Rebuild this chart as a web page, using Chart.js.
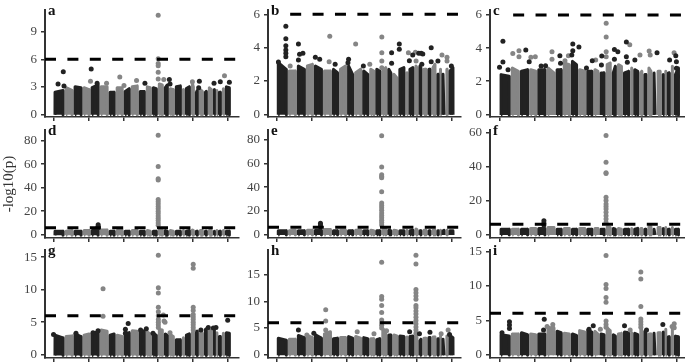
<!DOCTYPE html>
<html lang="en">
<head>
<meta charset="UTF-8">
<title>Manhattan plots</title>
<script src="https://cdn.jsdelivr.net/npm/chart.js"></script>
<style>
  html, body { margin: 0; padding: 0; background: #fff; }
  #page { position: relative; width: 685px; height: 364px; overflow: hidden; }
  canvas { position: absolute; }
</style>
</head>
<body>
<div id="page"></div>
<script>
// chromosome sizes (same for all panels)
const chrLengths = [158,129,129,115,129,129,101,115,101,115,101,86,86,86,72,86,101,43,86,57,57,72,57,72,43,29,57,43,86];
const xTicks = [0,500,1000,1500,2000,2500];
const threshold = 6;

const yTicksA = [0,3,6,9];
const yTicksB = [0,2,4,6];
const yTicksC = [0,2,4,6];
const yTicksD = [0,20,40,60,80];
const yTicksE = [0,20,40,60,80];
const yTicksF = [0,20,40,60];
const yTicksG = [0,5,10,15];
const yTicksH = [0,5,10,15];
const yTicksI = [0,5,10,15];

// top of the dense mass for each chromosome: [left, right]
const massA = [[2.4,2.6],[2.9,2.6],[3.0,2.9],[2.9,2.7],[2.9,3.2],[3.0,3.0],[2.4,2.4],[2.9,2.9],[2.5,2.8],[3.0,3.1],[2.5,2.5],[3.0,2.9],[2.9,2.8],[3.3,3.2],[2.9,3.2],[2.8,2.7],[3.0,3.1],[2.6,2.7],[2.8,3.0],[3.4,3.0],[2.4,2.6],[2.7,2.5],[2.4,2.5],[2.9,2.7],[2.5,2.7],[2.6,2.6],[2.4,2.4],[2.7,2.8],[3.0,2.9]];
const massB = [[3.1,2.7],[2.6,2.6],[2.9,2.7],[2.9,3.0],[2.9,2.7],[2.6,2.6],[2.7,2.5],[2.7,2.9],[2.9,2.4],[2.5,2.7],[2.6,2.4],[2.7,2.6],[2.7,2.6],[2.6,2.8],[2.7,2.5],[2.4,2.2],[2.7,2.8],[2.5,2.5],[2.7,2.8],[2.9,2.8],[2.9,2.8],[2.7,2.7],[2.7,2.7],[2.8,3.0],[2.4,2.4],[2.7,2.7],[2.4,2.4],[2.7,2.7],[2.6,2.8]];
const massC = [[2.4,2.3],[2.8,2.6],[2.6,2.7],[2.7,2.6],[2.7,2.7],[2.8,2.5],[2.7,2.7],[3.1,3.0],[3.2,3.0],[2.7,2.6],[2.6,2.6],[2.7,2.6],[2.5,2.5],[3.0,3.1],[2.5,2.9],[3.0,2.9],[2.5,2.6],[2.8,2.8],[2.7,2.6],[2.5,2.6],[2.4,2.4],[2.8,2.6],[2.5,2.5],[2.6,2.6],[2.4,2.4],[2.6,2.6],[2.5,2.5],[2.9,2.9],[2.4,2.8]];
const massD = [[3,3],[3,3.5],[3,3],[3.5,3.5],[3.5,3.5],[4,4],[3,3],[3.5,3.5],[3,3],[3.5,3.5],[3,3],[3.5,3],[3,3],[4,4],[3.5,3],[3.5,3],[3,3],[3.5,3],[3,3.5],[4,3.5],[3,3],[3.5,3.5],[3,3],[3.5,3.5],[3,3],[3.5,3.5],[3,3],[3.5,3.5],[3,3]];
const massE = [[3,3],[3,3.5],[3,3],[3.5,3.5],[3.5,3.5],[4,4],[3,3],[3.5,3.5],[3,3],[3.5,3.5],[3,3],[3.5,3],[3,3],[4,4],[3.5,3],[3.5,3],[3,3],[3.5,3],[3,3.5],[4.5,4],[3,3],[3.5,3.5],[3,3],[3.5,3.5],[3,3],[3.5,3.5],[3,3.5],[3.5,3.5],[3,3]];
const massF = [[3,3],[3,3],[3,3],[3.5,3.5],[3.5,3.5],[4,4],[3,3],[3.5,3.5],[3,3],[3.5,3.5],[3,3],[3.5,3.5],[3,3],[4.5,4],[3.5,3],[3.5,3],[3,3],[3.5,3],[3,3.5],[3.5,3.5],[3,3],[4.5,4.5],[3,3],[4,4],[3,3.5],[4,4],[3,3],[4,3.5],[3,3]];
const massG = [[3.0,2.6],[2.8,2.9],[3.2,2.8],[3.0,3.2],[3.3,3.5],[3.8,3.6],[3.0,3.2],[3.0,2.8],[3.3,3.4],[3.7,3.6],[3.5,3.7],[3.5,3.2],[3.3,3.0],[3.9,3.8],[3.2,3.0],[3.1,2.8],[2.3,2.3],[2.6,2.6],[3.0,3.2],[3.4,3.4],[3.6,3.6],[3.3,3.3],[3.9,4.0],[3.8,3.7],[3.8,3.8],[3.4,3.4],[2.8,2.8],[3.3,3.3],[3.4,3.3]];
const massH = [[3.1,2.7],[2.9,2.9],[3.6,3.2],[3.6,3.2],[3.7,3.1],[3.9,4.3],[3.0,3.1],[3.2,3.2],[3.4,3.1],[3.4,3.1],[3.2,3.0],[3.0,3.0],[2.8,3.0],[4.8,4.5],[3.7,3.7],[3.7,3.5],[3.5,3.4],[3.3,3.3],[3.4,3.5],[4.0,3.4],[2.6,2.9],[3.1,3.1],[3.2,3.2],[3.3,3.3],[3.0,3.0],[3.4,3.4],[2.9,2.9],[3.5,3.5],[3.6,3.2]];
const massI = [[2.9,2.7],[3.0,3.0],[3.2,2.9],[3.0,2.9],[3.0,3.0],[4.0,3.8],[3.4,3.2],[3.1,3.0],[3.0,2.8],[3.5,3.3],[3.6,3.3],[3.4,3.0],[3.0,2.9],[3.9,3.5],[2.9,2.7],[3.0,3.1],[3.3,3.2],[3.2,3.2],[3.1,2.9],[4.2,3.5],[3.4,3.2],[3.0,3.0],[3.1,3.1],[3.2,3.2],[3.3,3.3],[3.7,3.7],[2.6,2.6],[4.0,4.0],[2.7,2.6]];

// single points above the mass: [position, -log10(p)]
const blackA = [[65,3.3],[140,4.65],[150,3.1],[540,4.95],[625,3.4],[1310,3.4],[1660,3.8],[1670,3.3],[2090,3.6],[2080,2.9],[2300,3.4],[2390,3.55],[2520,3.5]];
const greyA = [[530,3.6],[760,3.4],[950,4.07],[1010,3.15],[1190,3.7],[1500,10.8],[1500,6.07],[1500,5.55],[1500,5.3],[1500,4.6],[1500,3.85],[1580,3.8],[1990,3.55],[2450,4.2]];
const blackB = [[130,5.28],[130,4.54],[130,4.12],[130,3.86],[130,3.66],[130,3.46],[310,4.22],[326,3.6],[374,3.66],[310,3.26],[24,3.14],[552,3.42],[614,3.3],[835,3.0],[1027,3.3],[1018,3.1],[1238,2.9],[1642,3.7],[1752,4.22],[1752,3.9],[1642,3.06],[1944,3.56],[1896,3.22],[2030,3.66],[2064,3.66],[2088,3.62],[2208,4.0],[2074,3.0],[2208,3.16],[2304,3.2],[2496,2.9]];
const greyB = [[758,4.68],[1128,4.22],[1502,4.64],[1502,3.7],[1502,3.2],[1502,2.8],[749,3.16],[1330,3.0],[1882,3.7],[1982,3.72],[1992,3.2],[2362,3.56],[2434,3.42],[2434,3.2],[192,2.9]];
const blackC = [[48,4.42],[48,3.16],[0,2.84],[120,2.7],[370,3.88],[418,3.18],[850,3.54],[859,3.08],[1032,4.25],[1032,3.84],[1118,4.06],[1018,3.58],[1224,2.8],[1306,3.24],[1440,3.52],[1435,2.98],[1618,3.92],[1666,3.78],[1618,3.32],[1786,4.37],[1786,3.48],[1800,3.14],[1906,3.28],[2218,3.72],[2395,3.28],[2482,3.54],[2491,3.18],[2491,2.78],[2506,2.27],[648,2.94],[586,2.92]];
const greyC = [[1502,5.5],[1502,4.67],[1502,3.78],[1502,3.48],[187,3.68],[274,3.84],[274,3.48],[442,3.44],[504,3.48],[739,3.78],[739,3.32],[970,3.54],[1834,4.2],[1978,3.58],[2107,3.82],[2122,3.58],[2458,3.72],[1354,3.28],[922,3.24]];
const blackD = [[640,8.5],[640,7],[640,6],[620,5]];
const greyD = [[1500,84.5],[1500,58],[1500,47.5],[1500,46.5],[1500,30],[1500,28],[1500,26],[1500,24],[1500,22],[1500,20],[1500,18],[1500,16],[1500,14],[1500,12],[1500,10],[1500,8]];
const blackE = [[625,9.5],[625,8],[625,6.5]];
const greyE = [[1500,83.5],[1500,57],[1500,50.5],[1500,49],[1500,48],[1500,36],[1500,26.5],[1500,24.5],[1500,22.5],[1500,20.5],[1500,18],[1500,16],[1500,14],[1500,12],[1500,10],[1500,8]];
const blackF = [[625,8],[625,6.5],[625,5.5]];
const greyF = [[1500,58.5],[1500,42.7],[1500,36.5],[1500,36],[1500,22],[1500,20],[1500,18],[1500,16.5],[1500,15],[1500,13],[1500,11],[1500,9],[1500,7]];
const blackG = [[0,3.1],[322,3.3],[566,3.4],[638,3.7],[1070,4.8],[1030,3.9],[1030,3.3],[1248,3.8],[1330,4],[1426,3.3],[2496,5.3],[2328,4.2],[2218,4.2],[2290,4.1],[2112,3.8]];
const greyG = [[710,10.15],[710,5.9],[1502,15.3],[1502,10.3],[1502,9.5],[1502,7.3],[1502,6.6],[1502,6],[1502,5.4],[1502,5],[1502,4.6],[1502,4.2],[1574,6.1],[1584,5.2],[1598,5],[1670,3.4],[2002,13.9],[2002,13.3],[2002,7.3],[2002,6.8],[2002,6.2],[2002,5.8],[2002,5.4],[2002,5],[2002,4.6],[2002,4.2],[2002,3.8]];
const blackH = [[310,4.6],[530,4],[1900,4.3],[2040,3.9],[2190,4.2],[2470,3.8]];
const greyH = [[1500,17.3],[1500,10.9],[1500,10.4],[1500,9.2],[1500,7.9],[1500,6.5],[1500,6],[1500,5.5],[1500,5],[700,8.4],[700,6.3],[700,4.6],[1150,4.3],[1390,3.9],[1570,4.5],[1990,18.6],[1990,17],[1990,12.2],[1990,11.6],[1990,11],[1990,10.4],[1990,9.2],[1990,8.8],[1990,8.2],[1990,7.6],[1990,7],[1990,6.4],[1990,5.8],[1990,5.2],[1990,4.6],[1990,4],[2450,4.6],[2350,3.9],[430,3.7]];
const blackI = [[140,4.8],[140,4.3],[140,3.8],[35,3.2],[630,5.15],[620,3.6],[1320,4.2],[1260,3.7],[1760,4.2],[2070,3.6],[2300,4.4]];
const greyI = [[1500,14.4],[1500,10.2],[1500,9.6],[1500,8.3],[1500,7.6],[1500,4.9],[1500,4.4],[1500,4],[1990,12],[1990,11],[1990,7],[1990,5.2],[1990,4.8],[1990,4.4],[1990,4],[670,4.1],[750,4.4],[750,3.9],[1420,3.7],[1840,3.6],[2430,4.1],[2460,4.5],[2460,3.9]];

const BLACK = '#222222';
const GREY = '#858585';
const INK = '#333333';
const FONT = "'Liberation Serif', serif";

// axis ranges are set so each panel's plot area lands where it does in the figure
const panels = [
  { id:'a', mass:massA, black:blackA, grey:greyA, ticks:yTicksA, yMin:-0.29, yMax:11.37, col:0, row:0, dashFrom:null },
  { id:'b', mass:massB, black:blackB, grey:greyB, ticks:yTicksB, yMin:-0.16, yMax:6.26, col:1, row:0, dashFrom:192 },
  { id:'c', mass:massC, black:blackC, grey:greyC, ticks:yTicksC, yMin:-0.16, yMax:6.3, col:2, row:0, dashFrom:192 },
  { id:'d', mass:massD, black:blackD, grey:greyD, ticks:yTicksD, yMin:-2.8, yMax:89, col:0, row:1, dashFrom:null, title:'-log10(p)' },
  { id:'e', mass:massE, black:blackE, grey:greyE, ticks:yTicksE, yMin:-3.1, yMax:88.4, col:1, row:1, dashFrom:null },
  { id:'f', mass:massF, black:blackF, grey:greyF, ticks:yTicksF, yMin:-2.2, yMax:61.8, col:2, row:1, dashFrom:null },
  { id:'g', mass:massG, black:blackG, grey:greyG, ticks:yTicksG, yMin:-0.5, yMax:16.1, col:0, row:2, dashFrom:null },
  { id:'h', mass:massH, black:blackH, grey:greyH, ticks:yTicksH, yMin:-0.62, yMax:19.6, col:1, row:2, dashFrom:null },
  { id:'i', mass:massI, black:blackI, grey:greyI, ticks:yTicksI, yMin:-0.48, yMax:15.2, col:2, row:2, dashFrom:null }
];

const columns = [
  { left:0, width:238, axis:45, xMin:-122, xMax:2658 },
  { left:232, width:228, axis:36, xMin:-125, xMax:2634 },
  { left:458, width:227, axis:32, xMin:-134, xMax:2626 }
];
const rows = [
  { top:10, height:107 },
  { top:130, height:108 },
  { top:250, height:108 }
];
// chart.js keeps 5px free on the right of the plot, so the canvas is that much wider
const PAD_TOP = 8, PAD_BOTTOM = 6, RIGHT_SLACK = 5;

// one filled shape per chromosome; black bands sit on top of the grey ones.
// x has to keep rising or the filler breaks, hence the 1 Mb steps at the sides
function massDatasets(mass, base) {
  const inset = 21;
  let start = 0;
  return chrLengths.map((len, i) => {
    const d = Math.min(inset, len / 2 - 2);
    const x0 = start + d, x1 = start + len - d;
    start += len;
    return {
      data: [
        { x:x0, y:base }, { x:x0 + 1, y:mass[i][0] }, { x:x1 - 1, y:mass[i][1] }, { x:x1, y:base }
      ],
      showLine: true,
      fill: { value: base },
      pointRadius: 0,
      borderWidth: 3,
      borderJoinStyle: 'round',
      borderColor: i % 2 ? GREY : BLACK,
      backgroundColor: i % 2 ? GREY : BLACK,
      order: i % 2 ? 6 : 5
    };
  });
}

function pointDataset(rowsOfPoints, color, order) {
  return {
    data: rowsOfPoints.map(p => ({ x:p[0], y:p[1] })),
    pointRadius: 2.5,
    pointBorderWidth: 0,
    pointBackgroundColor: color,
    showLine: false,
    order: order
  };
}

const panelLetter = {
  id: 'panelLetter',
  afterDraw(chart, args, opts) {
    const ctx = chart.ctx;
    ctx.save();
    ctx.font = 'bold 15px ' + FONT;
    ctx.fillStyle = '#111';
    ctx.textBaseline = 'middle';
    ctx.fillText(opts.text, chart.chartArea.left + 3, chart.chartArea.top + 1);
    ctx.restore();
  }
};

const page = document.getElementById('page');
panels.forEach(p => {
  const c = columns[p.col], r = rows[p.row];
  const canvas = document.createElement('canvas');
  canvas.width = c.width + RIGHT_SLACK;
  canvas.height = r.height + PAD_TOP + PAD_BOTTOM;
  canvas.style.left = c.left + 'px';
  canvas.style.top = (r.top - PAD_TOP) + 'px';
  page.appendChild(canvas);

  new Chart(canvas, {
    type: 'scatter',
    plugins: [panelLetter],
    data: {
      datasets: [
        ...massDatasets(p.mass, p.yMin * 0.2),
        pointDataset(p.grey, GREY, 4),
        pointDataset(p.black, BLACK, 3),
        {
          data: [{ x:p.dashFrom === null ? c.xMin : p.dashFrom, y:threshold }, { x:c.xMax, y:threshold }],
          showLine: true,
          pointRadius: 0,
          borderColor: '#000',
          borderWidth: 3,
          borderDash: [11, 11.4],
          order: 0
        }
      ]
    },
    options: {
      responsive: false,
      animation: false,
      layout: { padding: { top: PAD_TOP, right: 0, bottom: 0, left: 0 } },
      plugins: {
        legend: { display: false },
        tooltip: { enabled: false },
        title: { display: false },
        panelLetter: { text: p.id }
      },
      scales: {
        x: {
          type: 'linear',
          min: c.xMin,
          max: c.xMax,
          grid: { drawOnChartArea: false, color: INK, lineWidth: 1.5, tickLength: 4 },
          border: { color: INK, width: 1.5 },
          ticks: { callback: () => '', maxRotation: 0, padding: 0 },
          afterBuildTicks: s => { s.ticks = xTicks.map(v => ({ value: v })); },
          afterFit: s => { s.height = PAD_BOTTOM; s.paddingLeft = s.paddingRight = 0; }
        },
        y: {
          min: p.yMin,
          max: p.yMax,
          grid: { drawOnChartArea: false, color: INK, lineWidth: 1.5, tickLength: 4 },
          border: { color: INK, width: 2 },
          ticks: { color: '#444', font: { family: FONT, size: 13 }, padding: 4 },
          title: {
            display: !!p.title,
            text: p.title || '',
            color: '#333',
            font: { family: FONT, size: 15 },
            padding: 0
          },
          afterBuildTicks: s => { s.ticks = p.ticks.map(v => ({ value: v })); },
          afterFit: s => { s.width = c.axis; s.paddingTop = s.paddingBottom = 0; }
        }
      }
    }
  });
});
</script>
</body>
</html>
